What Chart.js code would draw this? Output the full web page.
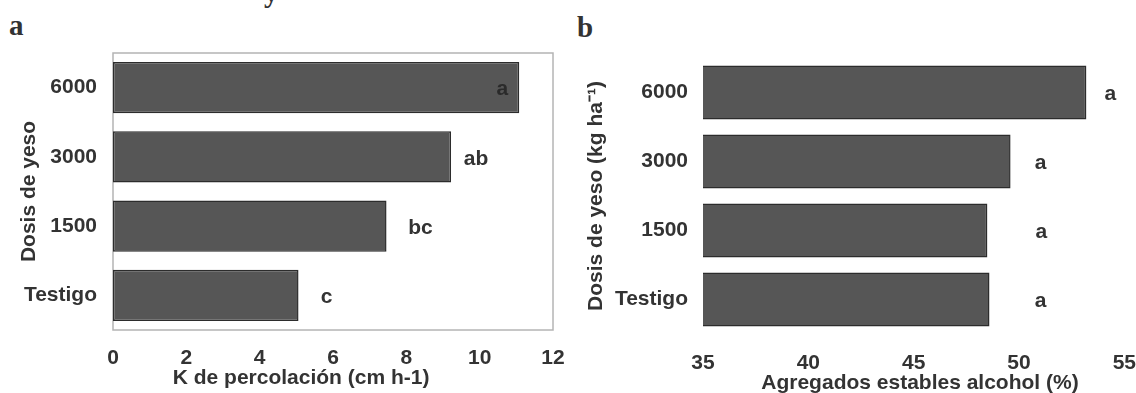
<!DOCTYPE html>
<html>
<head>
<meta charset="utf-8">
<script src="https://cdn.jsdelivr.net/npm/chart.js@4.4.0/dist/chart.umd.min.js"></script>
<style>
  html, body { margin: 0; padding: 0; background: #fff; }
  body { width: 1136px; height: 393px; position: relative; overflow: hidden; }
  .panel { position: absolute; top: 0; height: 393px; }
  .tag { position: absolute; font-family: "Liberation Serif", "DejaVu Serif", serif; font-weight: bold; font-size: 29px; color: #333; line-height: 1; }
</style>
</head>
<body>
<div class="tag" style="left:264px;top:-22px">y</div>
<div class="tag" style="left:9px;top:11px">a</div>
<div class="tag" style="left:577px;top:13px">b</div>
<div class="panel" style="left:0;width:570px"><canvas id="chartA"></canvas></div>
<div class="panel" style="left:570px;width:566px"><canvas id="chartB"></canvas></div>
<script>
// categories (top to bottom)
const doses = ['6000', '3000', '1500', 'Testigo'];

// panel a: K de percolación (cm h-1)
const percolation = [11.08, 9.22, 7.46, 5.06];
const percolationLetters = ['a', 'ab', 'bc', 'c'];
const percolationTicks = [0, 2, 4, 6, 8, 10, 12];

// panel b: agregados estables alcohol (%)
const aggregates = [53.2, 49.6, 48.5, 48.6];
const aggregateLetters = ['a', 'a', 'a', 'a'];
const aggregateTicks = [35, 40, 45, 50, 55];

const FONT = '"Liberation Sans", Arial, sans-serif';
const INK = '#333333';

// significance letters next to each bar
const letterPlugin = {
  id: 'letters',
  afterDatasetsDraw(chart, args, opts) {
    const meta = chart.getDatasetMeta(0);
    const ctx = chart.ctx;
    ctx.save();
    ctx.font = 'bold 21px ' + FONT;
    ctx.textAlign = 'center';
    ctx.textBaseline = 'middle';
    meta.data.forEach((bar, i) => {
      ctx.fillStyle = (opts.colors && opts.colors[i]) || INK;
      ctx.fillText(opts.text[i], bar.x + opts.offsets[i], bar.y + 2);
    });
    ctx.restore();
  }
};

// light frame round the plot area, and the x title (sits a bit off the axis centre)
const framePlugin = {
  id: 'frame',
  beforeDatasetsDraw(chart, args, opts) {
    if (!opts.show) return;
    const { ctx, chartArea: a } = chart;
    ctx.save();
    ctx.strokeStyle = '#b4b4b4';
    ctx.lineWidth = 1.5;
    ctx.strokeRect(a.left, a.top, a.right - a.left, a.bottom - a.top);
    ctx.restore();
  },
  afterDraw(chart, args, opts) {
    if (!opts.xTitle) return;
    const ctx = chart.ctx;
    const x = chart.scales.x.getPixelForValue(opts.xTitleAt);
    ctx.save();
    ctx.font = 'bold 21px ' + FONT;
    ctx.fillStyle = INK;
    ctx.textAlign = 'center';
    ctx.textBaseline = 'middle';
    ctx.fillText(opts.xTitle, x, opts.xTitleY);
    ctx.restore();
  }
};

function makeChart(id, values, ticks, cfg) {
  return new Chart(document.getElementById(id), {
    type: 'bar',
    data: {
      labels: doses,
      datasets: [{
        data: values,
        backgroundColor: '#565656',
        borderColor: '#2c2c2c',
        borderWidth: 1.5,
        borderSkipped: false,
        categoryPercentage: 1,
        barPercentage: cfg.barPct
      }]
    },
    options: {
      indexAxis: 'y',
      responsive: true,
      maintainAspectRatio: false,
      animation: false,
      layout: { padding: cfg.padding },
      plugins: {
        legend: { display: false },
        tooltip: { enabled: false },
        letters: cfg.letters,
        frame: cfg.frame
      },
      scales: {
        x: {
          min: ticks[0],
          max: ticks[ticks.length - 1],
          // tick marks hidden, but their length pushes the labels down
          grid: { display: false, drawTicks: true, tickLength: cfg.xTickGap },
          border: { display: false },
          ticks: {
            stepSize: ticks[1] - ticks[0],
            color: INK,
            padding: 0,
            font: { family: FONT, size: 21, weight: 'bold' }
          },
          afterFit(scale) { scale.height = cfg.xHeight; }
        },
        y: {
          grid: { display: false, drawTicks: false },
          border: { display: false },
          ticks: {
            color: INK,
            padding: cfg.yTickPad,
            font: { family: FONT, size: 21, weight: 'bold' }
          },
          title: {
            display: true,
            text: cfg.yTitle,
            color: INK,
            padding: { top: cfg.yTitlePad, bottom: 0 },
            font: { family: FONT, size: 21, weight: 'bold', lineHeight: 1.2 }
          },
          afterFit(scale) { scale.width = cfg.yWidth; }
        }
      }
    },
    plugins: [letterPlugin, framePlugin]
  });
}

makeChart('chartA', percolation, percolationTicks, {
  barPct: 0.74,
  padding: { top: 53, right: 17, left: 0, bottom: 0 },
  xHeight: 63,
  xTickGap: 16,
  yTickPad: 16,
  yWidth: 113,
  yTitle: 'Dosis de yeso',
  yTitlePad: 17,
  letters: { text: percolationLetters, offsets: [-17, 25, 34, 28], colors: ['#2a2a2a'] },
  frame: { show: true, xTitle: 'K de percolación (cm h-1)', xTitleAt: 5.13, xTitleY: 378 }
});

makeChart('chartB', aggregates, aggregateTicks, {
  barPct: 0.78,
  padding: { top: 58, right: 10, left: 0, bottom: 0 },
  xHeight: 59,
  xTickGap: 17,
  yTickPad: 15,
  yWidth: 133,
  yTitle: 'Dosis de yeso (kg ha\u207B\u00B9)',
  yTitlePad: 14,
  letters: { text: aggregateLetters, offsets: [24, 30, 54, 51] },
  frame: { show: false, xTitle: 'Agregados estables alcohol (%)', xTitleAt: 45.3, xTitleY: 383 }
});
</script>
</body>
</html>
